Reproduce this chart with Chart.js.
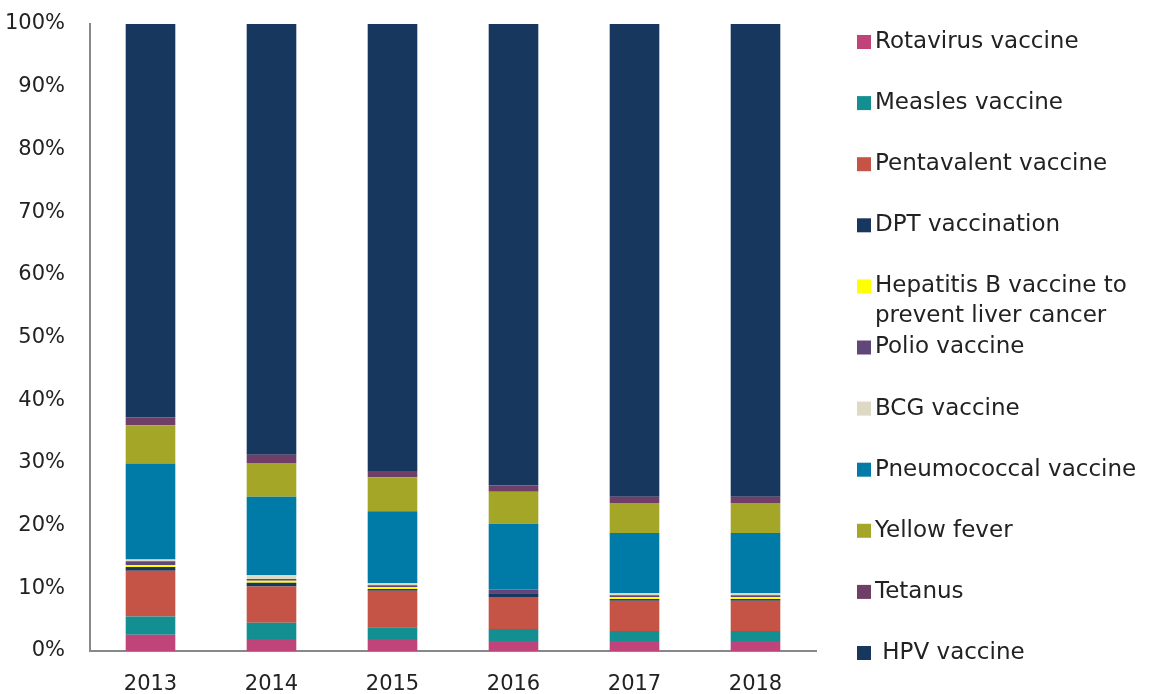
<!DOCTYPE html>
<html>
<head>
<meta charset="utf-8">
<script src="https://cdn.jsdelivr.net/npm/chart.js@4/dist/chart.umd.min.js"></script>
<style>
  html, body { margin: 0; padding: 0; background: #fff; }
  #wrap { width: 1159px; height: 694px; position: relative; }
</style>
</head>
<body>
<div id="wrap"><canvas id="c"></canvas></div>
<script>
const years = ['2013', '2014', '2015', '2016', '2017', '2018'];
const yTicks = [0, 10, 20, 30, 40, 50, 60, 70, 80, 90, 100];

// Shares (%), bottom to top of each bar
const rotavirus    = [2.6, 1.9, 1.9, 1.6, 1.6, 1.6];
const measles      = [2.9, 2.6, 1.9, 1.9, 1.6, 1.6];
const pentavalent  = [7.3, 5.8, 5.8, 5.1, 4.8, 4.8];
const dpt          = [0.6, 0.6, 0.3, 0.6, 0.3, 0.3];
const hepatitisB   = [0.3, 0.3, 0.3, 0.0, 0.3, 0.3];
const polio        = [0.6, 0.3, 0.3, 0.6, 0.3, 0.3];
const bcg          = [0.3, 0.6, 0.3, 0.0, 0.3, 0.3];
const pneumococcal = [15.3, 12.5, 11.5, 10.5, 9.6, 9.6];
const yellowFever  = [6.1, 5.4, 5.4, 5.1, 4.8, 4.8];
const tetanus      = [1.3, 1.3, 1.0, 1.0, 1.0, 1.0];
const hpv          = [62.7, 69.4, 71.3, 73.6, 75.4, 75.4];

const seriesNames = [
  'Rotavirus vaccine', 'Measles vaccine', 'Pentavalent vaccine', 'DPT vaccination',
  'Hepatitis B vaccine to prevent liver cancer', 'Polio vaccine', 'BCG vaccine',
  'Pneumococcal vaccine', 'Yellow fever', 'Tetanus', ' HPV vaccine'
];
const seriesValues = [rotavirus, measles, pentavalent, dpt, hepatitisB, polio, bcg,
  pneumococcal, yellowFever, tetanus, hpv];
const seriesColors = ['#C04379', '#138F92', '#C55447', '#17375E', '#FFFF00', '#5F4879',
  '#DDD9C4', '#007BA7', '#A3A627', '#6F3F68', '#17375E'];

const FONT = '"DejaVu Sans", sans-serif';
const TEXT = '#222222';

const legendPlugin = {
  id: 'sideLegend',
  afterDraw(chart) {
    const ctx = chart.ctx;
    const area = chart.chartArea;
    const sqX = area.right + 41;
    const txtX = sqX + 18;
    const startY = 42, step = 61.1, maxW = 270, lineH = 30;
    ctx.save();
    ctx.font = '23px ' + FONT;
    ctx.textBaseline = 'middle';
    ctx.textAlign = 'left';
    chart.data.datasets.forEach((ds, i) => {
      const cy = startY + i * step;
      ctx.fillStyle = ds.backgroundColor;
      ctx.fillRect(sqX, cy - 7, 14, 14);
      const words = ds.label.split(' ');
      const lines = [];
      let cur = '';
      words.forEach((w, k) => {
        const test = k === 0 ? w : cur + ' ' + w;
        if (k > 0 && ctx.measureText(test).width > maxW && cur.trim() !== '') {
          lines.push(cur);
          cur = w;
        } else {
          cur = test;
        }
      });
      lines.push(cur);
      ctx.fillStyle = TEXT;
      lines.forEach((ln, j) => ctx.fillText(ln, txtX, cy + j * lineH));
    });
    ctx.restore();
  }
};

new Chart(document.getElementById('c'), {
  type: 'bar',
  data: {
    labels: years,
    datasets: seriesNames.map((name, i) => ({
      label: name,
      data: seriesValues[i],
      backgroundColor: seriesColors[i],
      borderWidth: 0,
      categoryPercentage: 1.0,
      barPercentage: 0.41
    }))
  },
  options: {
    responsive: true,
    maintainAspectRatio: false,
    animation: false,
    layout: { padding: { top: 24, right: 343, left: 0, bottom: 0 } },
    plugins: {
      legend: { display: false },
      tooltip: { callbacks: { label: (c) => c.dataset.label.trim() + ': ' + c.parsed.y + '%' } }
    },
    scales: {
      x: {
        stacked: true,
        grid: { display: false, drawTicks: false },
        border: { display: true, color: '#888888', width: 2 },
        ticks: { color: TEXT, font: { family: FONT, size: 21 }, padding: 21, maxRotation: 0 },
        afterFit: (s) => { s.height = 43; }
      },
      y: {
        stacked: true,
        min: 0, max: 100,
        grid: { display: false, drawTicks: false },
        border: { display: true, color: '#888888', width: 2 },
        afterBuildTicks: (s) => { s.ticks = yTicks.map(v => ({ value: v })); },
        ticks: { color: TEXT, font: { family: FONT, size: 21 }, padding: 25, callback: (v) => v + '%' },
        afterFit: (s) => { s.width = 90; s.paddingTop = 0; s.paddingBottom = 0; }
      }
    }
  },
  plugins: [legendPlugin]
});
</script>
</body>
</html>
